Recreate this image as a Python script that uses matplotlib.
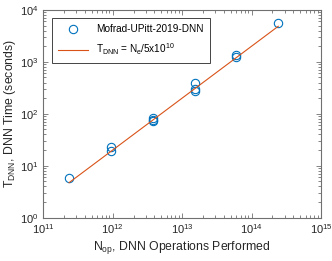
import matplotlib
matplotlib.use("Agg")
import matplotlib.pyplot as plt
import numpy as np

plt.rcParams['font.family'] = ['Liberation Sans', 'DejaVu Sans']
plt.rcParams['mathtext.fontset'] = 'custom'
plt.rcParams['mathtext.rm'] = 'Liberation Sans'
plt.rcParams['mathtext.it'] = 'Liberation Sans'
plt.rcParams['mathtext.default'] = 'regular'
plt.rcParams['font.size'] = 8

# datos
n_op = [2.36e11, 9.44e11, 9.44e11,
        3.77e12, 3.77e12, 3.77e12,
        1.51e13, 1.51e13, 1.51e13,
        6.04e13, 6.04e13, 2.42e14]
t_dnn = [5.9, 22.5, 19.0,
         84, 77, 73,
         385, 300, 280,
         1350, 1250, 5600]
rate = 5e10

gris = '#707070'

fig = plt.figure(figsize=(3.32, 2.61), dpi=100)
ax = fig.add_axes([0.13, 0.166, 0.837, 0.796])

ax.loglog(n_op, t_dnn, 'o', mfc='none', mec='#0072BD', ms=6, mew=0.8,
          label='Mofrad-UPitt-2019-DNN')
x_line = np.array([min(n_op), max(n_op)])
ax.loglog(x_line, x_line / rate, '-', color='#D95319', lw=0.8,
          label=r'T$_{DNN}$ = N$_e$/5x10$^{10}$')

ax.set_xlim(1e11, 1e15)
ax.set_ylim(1e0, 1e4)
ax.set_xticks([1e11, 1e12, 1e13, 1e14, 1e15])
ax.set_yticks([1e0, 1e1, 1e2, 1e3, 1e4])

ax.set_xlabel(r'N$_{op}$, DNN Operations Performed', fontsize=8.8, color='#262626', labelpad=2)
ax.set_ylabel(r'T$_{DNN}$, DNN Time (seconds)', fontsize=8.8, color='#262626', labelpad=1)

for s in ax.spines.values():
    s.set_color(gris)
    s.set_linewidth(0.8)
ax.tick_params(which='both', direction='in', top=True, right=True, colors=gris,
               labelcolor='#262626', labelsize=8, width=0.6)
ax.tick_params(which='major', length=3.5)
ax.tick_params(which='minor', length=2)

leg = ax.legend(loc='upper left', bbox_to_anchor=(0.015, 0.985), fontsize=7.2,
                fancybox=False, framealpha=1, edgecolor='#262626',
                handlelength=3.0, handletextpad=0.8, borderpad=0.6,
                labelspacing=0.75)
leg.get_frame().set_linewidth(0.6)

fig.savefig('out.png', dpi=100)
